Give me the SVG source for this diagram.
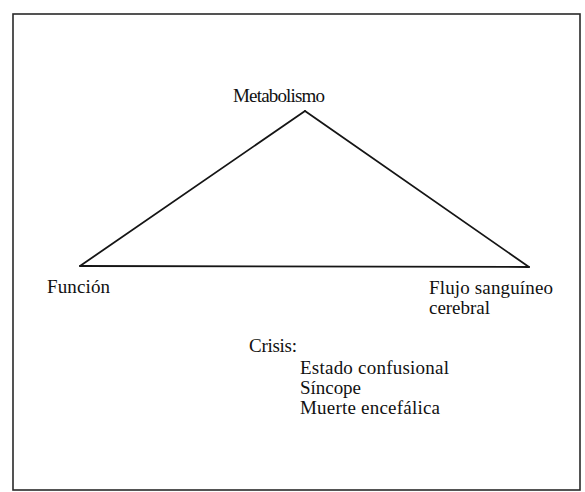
<svg xmlns="http://www.w3.org/2000/svg" width="585" height="492" viewBox="0 0 585 492">
<style>
.lbl{font-family:'Liberation Serif','DejaVu Serif',serif;font-size:19px;fill:#111}
.edge{stroke:#151515;stroke-width:1.8;fill:none;stroke-linecap:round}
</style>
<rect width="585" height="492" fill="#fff"/>
<rect x="13" y="14" width="567" height="476" fill="none" stroke="#2a2a2a" stroke-width="1.6"/>
<g id="connectors">
<line class="edge" x1="305" y1="111" x2="80" y2="266"/>
<line class="edge" x1="305" y1="111" x2="529" y2="267"/>
<line class="edge" x1="80" y1="266" x2="529" y2="267" stroke-width="2.2"/>
</g>
<g class="lbl" font-family="Liberation Serif, DejaVu Serif, serif" font-size="19">
<g id="metabolismo"><text x="233" y="102" textLength="92">Metabolismo</text></g>
<g id="funcion"><text x="47" y="293" textLength="63">Función</text></g>
<g id="flujo"><text x="429" y="294" textLength="124">Flujo sanguíneo</text><text x="429" y="314" textLength="61">cerebral</text></g>
<g id="crisis">
<text x="249" y="352" textLength="48">Crisis:</text>
<text x="300" y="374" textLength="149">Estado confusional</text>
<text x="300" y="394" textLength="61">Síncope</text>
<text x="300" y="414" textLength="140">Muerte encefálica</text>
</g>
</g>
</svg>
